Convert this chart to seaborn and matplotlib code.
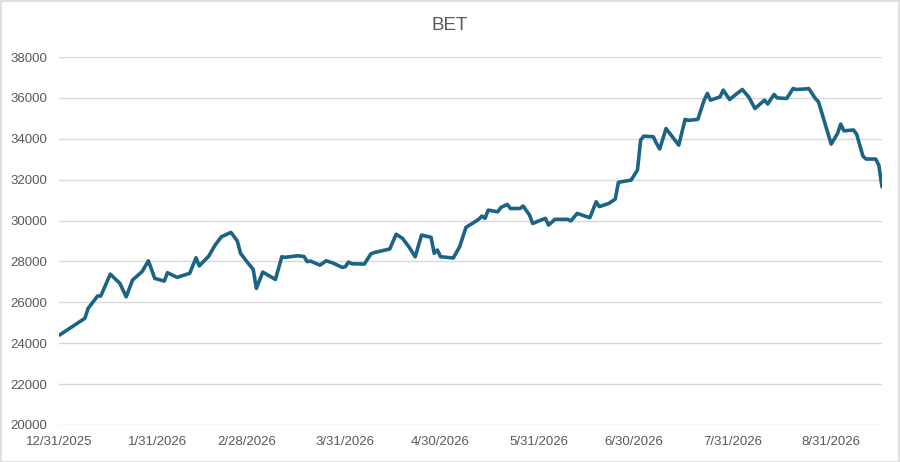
import pandas as pd
import matplotlib.pyplot as plt
import matplotlib.dates as mdates
import seaborn as sns
from matplotlib.patches import Rectangle

# === BET index values ===
dates = [
    '2025-12-31', '2026-01-08', '2026-01-09', '2026-01-12', '2026-01-13', '2026-01-16',
    '2026-01-19', '2026-01-21', '2026-01-23', '2026-01-26', '2026-01-28', '2026-01-30',
    '2026-02-02', '2026-02-03', '2026-02-06', '2026-02-10', '2026-02-12', '2026-02-13',
    '2026-02-16', '2026-02-18', '2026-02-20', '2026-02-23', '2026-02-25', '2026-02-26',
    '2026-02-28', '2026-03-02', '2026-03-03', '2026-03-05', '2026-03-09', '2026-03-11',
    '2026-03-12', '2026-03-16', '2026-03-18', '2026-03-19', '2026-03-20', '2026-03-23',
    '2026-03-25', '2026-03-27', '2026-03-30', '2026-03-31', '2026-04-01', '2026-04-02',
    '2026-04-06', '2026-04-08', '2026-04-09', '2026-04-14', '2026-04-16', '2026-04-18',
    '2026-04-20', '2026-04-22', '2026-04-24', '2026-04-27', '2026-04-28', '2026-04-29',
    '2026-04-30', '2026-05-04', '2026-05-06', '2026-05-08', '2026-05-10', '2026-05-12',
    '2026-05-13', '2026-05-14', '2026-05-15', '2026-05-18', '2026-05-19', '2026-05-21',
    '2026-05-22', '2026-05-25', '2026-05-26', '2026-05-28', '2026-05-29', '2026-06-02',
    '2026-06-03', '2026-06-05', '2026-06-09', '2026-06-10', '2026-06-12', '2026-06-16',
    '2026-06-18', '2026-06-19', '2026-06-22', '2026-06-24', '2026-06-25', '2026-06-29',
    '2026-07-01', '2026-07-02', '2026-07-03', '2026-07-06', '2026-07-07', '2026-07-08',
    '2026-07-10', '2026-07-14', '2026-07-16', '2026-07-17', '2026-07-20', '2026-07-22',
    '2026-07-23', '2026-07-24', '2026-07-27', '2026-07-28', '2026-07-30', '2026-08-01',
    '2026-08-03', '2026-08-05', '2026-08-07', '2026-08-10', '2026-08-11', '2026-08-13',
    '2026-08-14', '2026-08-17', '2026-08-19', '2026-08-20', '2026-08-24', '2026-08-26',
    '2026-08-27', '2026-08-31', '2026-09-02', '2026-09-03', '2026-09-04', '2026-09-07',
    '2026-09-08', '2026-09-10', '2026-09-11', '2026-09-14', '2026-09-15', '2026-09-16',
]
values = [
    24400, 25220, 25700, 26310, 26310, 27380,
    26930, 26270, 27090, 27500, 28030, 27170,
    27040, 27450, 27220, 27420, 28180, 27780,
    28260, 28800, 29210, 29420, 29000, 28400,
    27990, 27610, 26680, 27480, 27120, 28230,
    28200, 28280, 28240, 27990, 28020, 27820,
    28030, 27930, 27710, 27740, 27970, 27890,
    27870, 28360, 28430, 28610, 29330, 29130,
    28720, 28230, 29290, 29180, 28400, 28560,
    28230, 28170, 28720, 29670, 29860, 30060,
    30220, 30110, 30510, 30430, 30640, 30790,
    30590, 30590, 30710, 30270, 29860, 30110,
    29780, 30060, 30060, 29980, 30350, 30140,
    30920, 30680, 30840, 31050, 31870, 31980,
    32470, 33940, 34130, 34100, 33770, 33500,
    34500, 33690, 34950, 34900, 34950, 35890,
    36220, 35890, 36050, 36380, 35920, 36170,
    36410, 36050, 35480, 35890, 35700, 36170,
    36000, 35970, 36460, 36410, 36450, 35970,
    35810, 33740, 34260, 34720, 34390, 34430,
    34230, 33150, 33010, 33010, 32710, 31650,
]

x_ticks = ['2025-12-31', '2026-01-31', '2026-02-28', '2026-03-31', '2026-04-30',
           '2026-05-31', '2026-06-30', '2026-07-31', '2026-08-31']
y_ticks = list(range(20000, 38001, 2000))

df = pd.DataFrame({'date': pd.to_datetime(dates), 'value': values})

sns.set_style('white')
plt.rcParams['font.family'] = ['Liberation Sans', 'DejaVu Sans']

fig = plt.figure(figsize=(9, 4.62), dpi=100)
ax = fig.add_axes([0.0661, 0.0801, 0.9139, 0.7965])

sns.lineplot(data=df, x='date', y='value', ax=ax, color='#1B6485', linewidth=2.6,
             solid_joinstyle='round', solid_capstyle='round')

tick_dates = pd.to_datetime(x_ticks)
ax.set_xticks(tick_dates)
ax.set_xticklabels([f'{d.month}/{d.day}/{d.year}' for d in tick_dates])
ax.set_xlim(df['date'].iloc[0], df['date'].iloc[-1])
ax.set_yticks(y_ticks)
ax.set_ylim(20000, 38000)

ax.grid(axis='y', color='#D9D9D9', linewidth=1.0)
ax.set_axisbelow(True)
for s in ax.spines.values():
    s.set_visible(False)
ax.tick_params(axis='both', length=0, labelsize=9.5, colors='#595959')
ax.tick_params(axis='y', pad=9)
ax.tick_params(axis='x', pad=8)
ax.set_xlabel('')
ax.set_ylabel('')

fig.text(0.5, 0.945, 'BET', ha='center', va='center', fontsize=13.5, color='#595959')
fig.patches.append(Rectangle((0.001, 0.001), 0.998, 0.997, transform=fig.transFigure,
                             fill=False, edgecolor='#D9D9D9', linewidth=1.2))

fig.savefig('out.png', dpi=100)
